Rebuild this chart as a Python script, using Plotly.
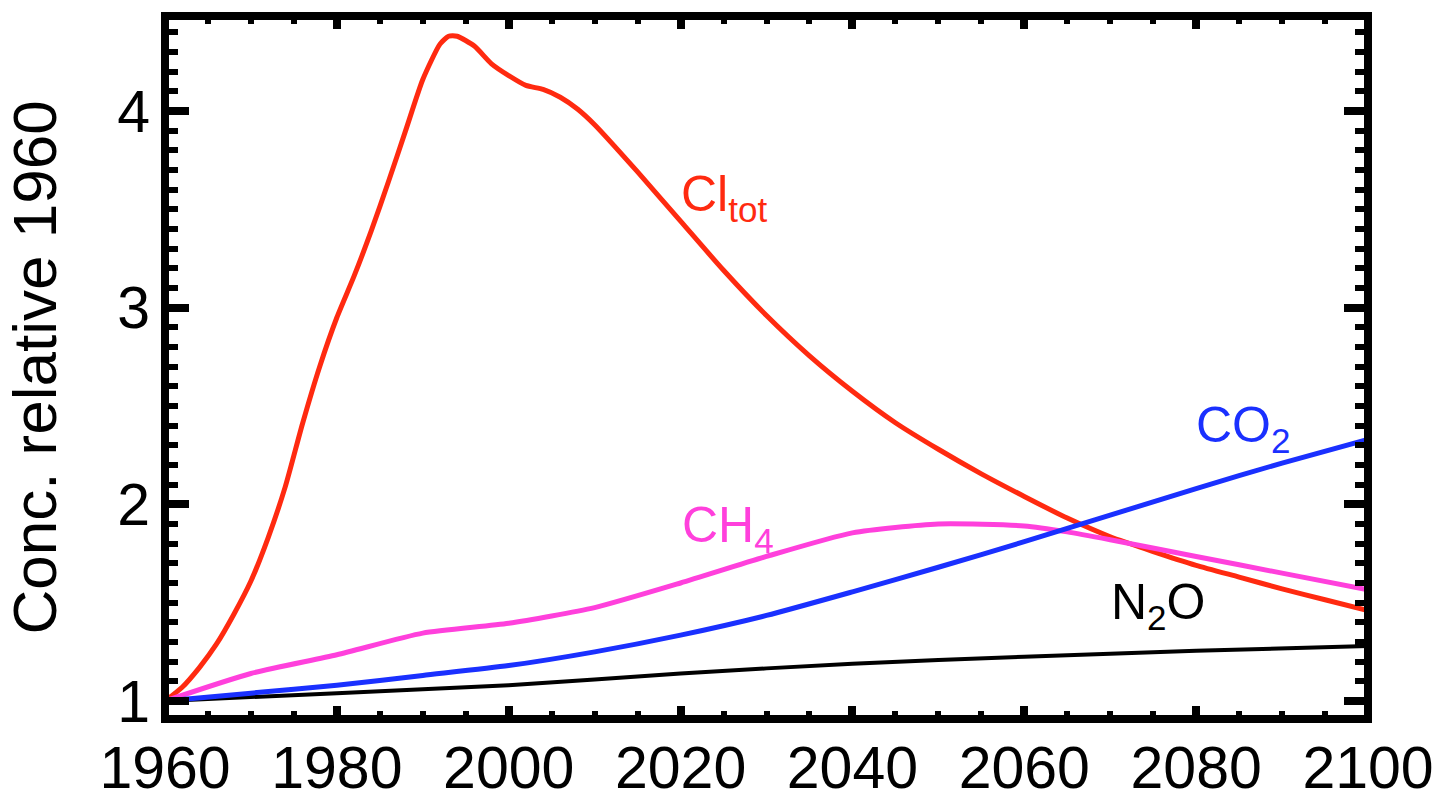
import plotly.graph_objects as go

# Total chlorine, relative to 1960
years_cl = [1960, 1962, 1964, 1966, 1968, 1970, 1972, 1974, 1976, 1978,
            1980, 1982, 1984, 1986, 1988, 1990, 1992, 1993, 1994, 1996,
            1998, 2000, 2002, 2004, 2006, 2008, 2010, 2015, 2020, 2025,
            2030, 2035, 2040, 2045, 2050, 2055, 2060, 2065, 2070, 2075,
            2080, 2085, 2090, 2095, 2100]
cl_tot = [1.00, 1.07, 1.17, 1.29, 1.44, 1.61, 1.83, 2.09, 2.41, 2.70,
          2.95, 3.16, 3.39, 3.64, 3.90, 4.16, 4.34, 4.38, 4.38, 4.33,
          4.24, 4.18, 4.13, 4.11, 4.07, 4.01, 3.93, 3.69, 3.44, 3.19,
          2.96, 2.755, 2.575, 2.415, 2.28, 2.155, 2.04, 1.93, 1.835, 1.76,
          1.69, 1.63, 1.57, 1.515, 1.46]

# Methane
years_ch4 = [1960, 1970, 1980, 1990, 2000, 2010, 2020, 2030, 2040, 2050,
             2060, 2065, 2070, 2080, 2090, 2100]
ch4 = [1.00, 1.14, 1.235, 1.345, 1.395, 1.475, 1.60, 1.735, 1.855, 1.90,
       1.89, 1.86, 1.82, 1.735, 1.65, 1.565]

# Carbon dioxide
years_co2 = [1960, 1970, 1980, 1990, 2000, 2010, 2020, 2030, 2040, 2050,
             2060, 2070, 2080, 2090, 2100]
co2 = [1.00, 1.04, 1.08, 1.13, 1.18, 1.25, 1.335, 1.435, 1.555, 1.68,
       1.81, 1.945, 2.08, 2.21, 2.33]

# Nitrous oxide
years_n2o = [1960, 1980, 2000, 2020, 2040, 2060, 2080, 2100]
n2o = [1.00, 1.04, 1.08, 1.14, 1.19, 1.225, 1.255, 1.28]

x_ticks = [1960, 1980, 2000, 2020, 2040, 2060, 2080, 2100]
y_ticks = [1, 2, 3, 4]

RED = "#ff2a10"
MAGENTA = "#ff40dc"
BLUE = "#1a30ff"
BLACK = "#000000"

series = [
    ("N2O", years_n2o, n2o, BLACK, 4),
    ("Cl_tot", years_cl, cl_tot, RED, 5),
    ("CH4", years_ch4, ch4, MAGENTA, 5),
    ("CO2", years_co2, co2, BLUE, 5),
]

fig = go.Figure()
for name, xs, ys, color, width in series:
    fig.add_trace(go.Scatter(
        x=xs, y=ys, mode="lines", name=name, hoverinfo="skip",
        line=dict(color=color, width=width, shape="spline", smoothing=0.6),
    ))

FONT = "Liberation Sans, Arial, Helvetica, sans-serif"

fig.update_layout(
    width=1439, height=801,
    margin=dict(l=165, r=71, t=16, b=82, autoexpand=False),
    paper_bgcolor="white", plot_bgcolor="white",
    font=dict(family=FONT, color="black"),
    showlegend=False,
)

fig.update_xaxes(
    range=[1960, 2100], tickvals=x_ticks, ticktext=[str(v) for v in x_ticks],
    ticks="inside", ticklen=13, tickwidth=8, tickcolor="black",
    mirror="allticks", showline=False, showgrid=False, zeroline=False,
    automargin=False,
    tickfont=dict(size=59, family=FONT, color="black"),
    ticklabelstandoff=9,
    minor=dict(dtick=5, tick0=1960, ticks="inside", ticklen=8, tickwidth=6,
               tickcolor="black", showgrid=False),
)
fig.update_yaxes(
    range=[0.9085, 4.483], tickvals=y_ticks, ticktext=[str(v) for v in y_ticks],
    ticks="inside", ticklen=24, tickwidth=8, tickcolor="black",
    mirror="allticks", showline=False, showgrid=False, zeroline=False,
    automargin=False,
    tickfont=dict(size=59, family=FONT, color="black"),
    ticklabelstandoff=14,
    title=dict(text="Conc. relative 1960", font=dict(size=62, family=FONT, color="black"),
               standoff=40),
    minor=dict(dtick=0.1, tick0=1, ticks="inside", ticklen=13, tickwidth=6,
               tickcolor="black", showgrid=False),
)

# Heavy frame around the plotting area
fig.add_shape(type="rect", xref="paper", yref="paper", x0=0, x1=1, y0=0, y1=1,
              line=dict(color="black", width=8), fillcolor="rgba(0,0,0,0)", layer="above")

labels = [
    ("Cl<sub>tot</sub>", 2019.8, 3.56, RED),
    ("CH<sub>4</sub>", 2019.9, 1.877, MAGENTA),
    ("CO<sub>2</sub>", 2079.8, 2.385, BLUE),
    ("N<sub>2</sub>O", 2069.8, 1.486, BLACK),
]
for text, x, y, color in labels:
    fig.add_annotation(x=x, y=y, xref="x", yref="y", text=text, showarrow=False,
                       xanchor="left", yanchor="middle",
                       font=dict(size=50, family=FONT, color=color))

fig.write_html("out.html")
